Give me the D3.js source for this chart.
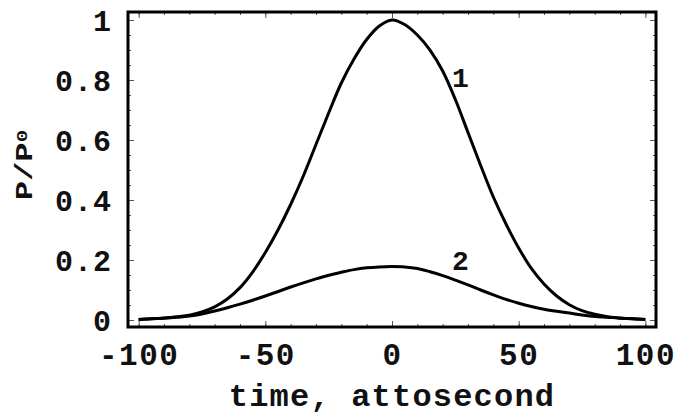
<!DOCTYPE html>
<html>
<head>
<meta charset="utf-8">
<script src="https://cdn.jsdelivr.net/npm/d3@7"></script>
<style>
html,body{margin:0;padding:0;background:#fff;}
svg{display:block;}
text{font-family:"Liberation Mono","Courier New",monospace;font-weight:bold;fill:#111;}
</style>
</head>
<body>
<svg id="chart" width="675" height="419"></svg>
<script>
// time, attosecond
const times = [-100,-95,-90,-85,-80,-75,-70,-65,-60,-55,-50,-45,-40,-35,-30,-25,-20,-15,-10,-5,0,5,10,15,20,25,30,35,40,45,50,55,60,65,70,75,80,85,90,95,100];
// curve 1 (P/P0)
const curve1 = [0.002,0.004,0.007,0.011,0.016,0.027,0.044,0.07,0.108,0.16,0.225,0.30,0.385,0.48,0.585,0.69,0.79,0.87,0.935,0.98,1.0,0.985,0.95,0.90,0.83,0.735,0.625,0.515,0.41,0.32,0.24,0.172,0.12,0.08,0.051,0.031,0.019,0.011,0.007,0.004,0.002];
// curve 2 (P/P0)
const curve2 = [0.002,0.004,0.006,0.009,0.013,0.02,0.03,0.041,0.053,0.066,0.08,0.095,0.11,0.124,0.137,0.149,0.159,0.168,0.174,0.177,0.178,0.177,0.172,0.161,0.148,0.133,0.117,0.1,0.084,0.069,0.056,0.045,0.036,0.029,0.023,0.017,0.012,0.009,0.006,0.004,0.002];
const xMajor = [-100,-50,0,50,100];
const xMinor = [-100,-90,-80,-70,-60,-50,-40,-30,-20,-10,0,10,20,30,40,50,60,70,80,90,100];
const yMajor = [0,0.2,0.4,0.6,0.8,1];
const yMinor = [0,0.05,0.1,0.15,0.2,0.25,0.3,0.35,0.4,0.45,0.5,0.55,0.6,0.65,0.7,0.75,0.8,0.85,0.9,0.95,1];
const yLabels = ["0","0.2","0.4","0.6","0.8","1"];
const curveLabels = [{text:"1", t:27, v:0.81},{text:"2", t:27, v:0.20}];

const L=128, R=656, T=12, B=327;
const x = d3.scaleLinear().domain([-104.2,104.2]).range([L,R]);
const y = d3.scaleLinear().domain([-0.0233,1.0267]).range([B,T]);

const svg = d3.select("#chart");

function styleTicks(g){
  g.select(".domain").remove();
  g.selectAll(".tick line").attr("stroke","#555").attr("stroke-width",1);
}

// minor ticks on four sides
svg.append("g").attr("transform",`translate(0,${B})`)
  .call(d3.axisBottom(x).tickValues(xMinor).tickSize(-3).tickFormat("")).call(styleTicks);
svg.append("g").attr("transform",`translate(0,${T})`)
  .call(d3.axisTop(x).tickValues(xMinor).tickSize(-3).tickFormat("")).call(styleTicks);
svg.append("g").attr("transform",`translate(${L},0)`)
  .call(d3.axisLeft(y).tickValues(yMinor).tickSize(-3).tickFormat("")).call(styleTicks);
svg.append("g").attr("transform",`translate(${R},0)`)
  .call(d3.axisRight(y).tickValues(yMinor).tickSize(-3).tickFormat("")).call(styleTicks);

// major ticks
const gx = svg.append("g").attr("transform",`translate(0,${B})`)
  .call(d3.axisBottom(x).tickValues(xMajor).tickSize(-6).tickPadding(0).tickFormat(d=>String(d))).call(styleTicks);
gx.selectAll("text").attr("font-size",31).attr("letter-spacing",1.5).attr("dy",null).attr("y",38);
svg.append("g").attr("transform",`translate(0,${T})`)
  .call(d3.axisTop(x).tickValues(xMajor).tickSize(-6).tickFormat("")).call(styleTicks);
const gy = svg.append("g").attr("transform",`translate(${L},0)`)
  .call(d3.axisLeft(y).tickValues(yMajor).tickSize(-6).tickPadding(16).tickFormat((d,i)=>yLabels[i])).call(styleTicks);
gy.selectAll("text").attr("font-size",30).attr("letter-spacing",1).attr("dy","0.35em");
svg.append("g").attr("transform",`translate(${R},0)`)
  .call(d3.axisRight(y).tickValues(yMajor).tickSize(-6).tickFormat("")).call(styleTicks);

// curves
const line = d3.line().x(d=>x(d[0])).y(d=>y(d[1])).curve(d3.curveCatmullRom);
[curve1,curve2].forEach(vals=>{
  svg.append("path").datum(times.map((t,i)=>[t,vals[i]]))
    .attr("d",line).attr("fill","none").attr("stroke","#000").attr("stroke-width",3);
});

// frame
svg.append("rect").attr("x",L).attr("y",T).attr("width",R-L).attr("height",B-T)
  .attr("fill","none").attr("stroke","#000").attr("stroke-width",3);

// curve labels
svg.selectAll(".clab").data(curveLabels).enter().append("text")
  .attr("x",d=>x(d.t)).attr("y",d=>y(d.v)).attr("text-anchor","middle").attr("dy","0.35em")
  .attr("font-size",28).text(d=>d.text);

// axis titles
svg.append("text").attr("x",392).attr("y",406).attr("text-anchor","middle")
  .attr("font-size",32).attr("letter-spacing",1.2).text("time, attosecond");
const yt = svg.append("text").attr("transform",`translate(32,165) rotate(-90) scale(1.4,1)`)
  .attr("text-anchor","middle").attr("font-size",23);
yt.append("tspan").text("P/P");
yt.append("tspan").attr("font-size",15).attr("dy",-5).text("0");
</script>
</body>
</html>
